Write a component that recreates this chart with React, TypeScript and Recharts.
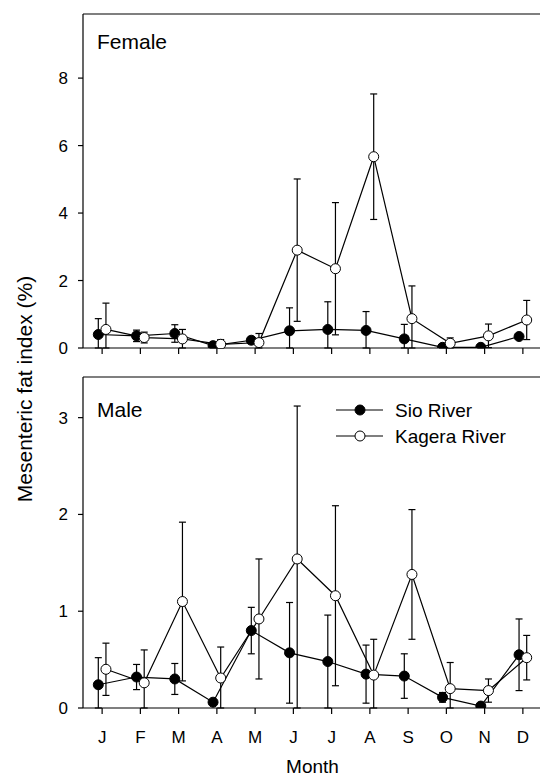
import { LineChart, Line, XAxis, YAxis, ErrorBar, ReferenceLine, Legend } from 'recharts';

const months = ['J', 'F', 'M', 'A', 'M', 'J', 'J', 'A', 'S', 'O', 'N', 'D'];
const monthTicks = [1, 2, 3, 4, 5, 6, 7, 8, 9, 10, 11, 12];
const seriesNames = ['Sio River', 'Kagera River'];

// Female panel
const femaleSio = [0.40, 0.36, 0.43, 0.07, 0.23, 0.51, 0.55, 0.52, 0.27, 0.02, 0.02, 0.34];
const femaleSioErr = [0.47, 0.17, 0.26, 0.08, 0.10, 0.68, 0.82, 0.56, 0.43, 0.03, 0.03, 0.05];
const femaleKagera = [0.55, 0.31, 0.27, 0.11, 0.16, 2.90, 2.35, 5.67, 0.87, 0.14, 0.36, 0.83];
const femaleKageraErr = [0.78, 0.16, 0.28, 0.14, 0.27, 2.11, 1.96, 1.86, 0.97, 0.16, 0.35, 0.58];
const femaleTicks = [0, 2, 4, 6, 8];

// Male panel
const maleSio = [0.24, 0.32, 0.30, 0.06, 0.80, 0.57, 0.48, 0.35, 0.33, 0.11, 0.02, 0.55];
const maleSioErr = [0.28, 0.13, 0.16, 0.02, 0.24, 0.52, 0.48, 0.30, 0.23, 0.05, 0.01, 0.37];
const maleKagera = [0.40, 0.26, 1.10, 0.31, 0.92, 1.54, 1.16, 0.34, 1.38, 0.20, 0.18, 0.52];
const maleKageraErr = [0.27, 0.34, 0.82, 0.32, 0.62, 1.58, 0.93, 0.37, 0.67, 0.27, 0.12, 0.23];
const maleTicks = [0, 1, 2, 3];

const FONT = '"Liberation Sans", Arial, Helvetica, sans-serif';

// small horizontal shift so the two series don't sit on top of each other
const build = (vals: number[], errs: number[], shift: number) =>
  vals.map((v, i) => ({ x: i + 1 + shift, y: v, err: [Math.min(errs[i], v), errs[i]] }));

const LegendContent = ({ payload }: any) => {
  const items = [...(payload || [])].sort(
    (a: any, b: any) => seriesNames.indexOf(a.value) - seriesNames.indexOf(b.value)
  );
  return (
    <svg width={200} height={56} style={{ overflow: 'visible' }}>
      {items.map((p: any, i: number) => (
        <g key={p.value} transform={`translate(0, ${12 + i * 26})`}>
          <line x1={6} x2={53} y1={0} y2={0} stroke="#000" strokeWidth={1.2} />
          <circle cx={30} cy={0} r={5} fill={p.value === 'Sio River' ? '#000' : '#fff'} stroke="#000" strokeWidth={1} />
          <text x={65} y={0} dy="0.35em" fontSize={19} fontFamily={FONT} fill="#000">{p.value}</text>
        </g>
      ))}
    </svg>
  );
};

function Panel({ sio, sioErr, kagera, kageraErr, yMax, ticks, height, marginTop, xHeight, showMonths }: any) {
  const sioData = build(sio, sioErr, -0.1);
  const kageraData = build(kagera, kageraErr, 0.1);
  return (
    <LineChart width={560} height={height} margin={{ top: marginTop, right: 18, bottom: 0, left: 0 }}>
      <XAxis
        type="number"
        dataKey="x"
        domain={[0.5, 12.5]}
        ticks={monthTicks}
        allowDataOverflow
        height={xHeight}
        tickSize={6}
        tickMargin={17}
        tickFormatter={(v: number) => (showMonths ? months[v - 1] : '')}
        tick={{ fill: '#000', fontSize: 17, fontFamily: FONT }}
        axisLine={{ stroke: '#000', strokeWidth: 1.2 }}
        tickLine={{ stroke: '#000', strokeWidth: 1.2 }}
        label={showMonths ? { value: 'Month', position: 'insideBottom', offset: 4, fill: '#000', fontSize: 19, fontFamily: FONT } : undefined}
      />
      <YAxis
        type="number"
        domain={[0, yMax]}
        ticks={ticks}
        allowDataOverflow
        width={83}
        tickSize={5}
        tickMargin={10}
        tick={{ fill: '#000', fontSize: 17, fontFamily: FONT }}
        axisLine={{ stroke: '#000', strokeWidth: 1.2 }}
        tickLine={{ stroke: '#000', strokeWidth: 1.2 }}
      />
      <ReferenceLine y={yMax} stroke="#000" strokeWidth={1.2} />
      <Line
        data={sioData}
        dataKey="y"
        name="Sio River"
        stroke="#000"
        strokeWidth={1.2}
        dot={{ r: 5, fill: '#000', stroke: '#000', strokeWidth: 1 }}
        isAnimationActive={false}
      >
        <ErrorBar dataKey="err" direction="y" width={3.5} stroke="#000" strokeWidth={1.2} />
      </Line>
      <Line
        data={kageraData}
        dataKey="y"
        name="Kagera River"
        stroke="#000"
        strokeWidth={1.2}
        dot={{ r: 5, fill: '#fff', stroke: '#000', strokeWidth: 1 }}
        isAnimationActive={false}
      >
        <ErrorBar dataKey="err" direction="y" width={3.5} stroke="#000" strokeWidth={1.2} />
      </Line>
      {!showMonths ? null : (
        <Legend
          layout="vertical"
          align="center"
          verticalAlign="middle"
          wrapperStyle={{ left: 330, top: 38, width: 200, height: 56 }}
          content={<LegendContent />}
        />
      )}
    </LineChart>
  );
}

export default function App() {
  return (
    <div style={{ position: 'absolute', left: 0, top: 0, width: 540, height: 777, overflow: 'hidden', background: '#fff', fontFamily: FONT }}>
      <div style={{ position: 'absolute', left: 0, top: 0 }}>
        <Panel sio={femaleSio} sioErr={femaleSioErr} kagera={femaleKagera} kageraErr={femaleKageraErr}
          yMax={9.9} ticks={femaleTicks} height={370} marginTop={14} xHeight={22} showMonths={false} />
      </div>
      <div style={{ position: 'absolute', left: 0, top: 360 }}>
        <Panel sio={maleSio} sioErr={maleSioErr} kagera={maleKagera} kageraErr={maleKageraErr}
          yMax={3.42} ticks={maleTicks} height={417} marginTop={17} xHeight={69} showMonths={true} />
      </div>
      <svg width={540} height={777} style={{ position: 'absolute', left: 0, top: 0, pointerEvents: 'none' }}>
        <text x={97} y={49} fontSize={21} fontFamily={FONT} fill="#000">Female</text>
        <text x={97} y={417} fontSize={21} fontFamily={FONT} fill="#000">Male</text>
        <text x={24} y={389} transform="rotate(-90, 24, 389)" textAnchor="middle" dominantBaseline="central"
          fontSize={21} fontFamily={FONT} fill="#000">Mesenteric fat index (%)</text>
      </svg>
    </div>
  );
}
